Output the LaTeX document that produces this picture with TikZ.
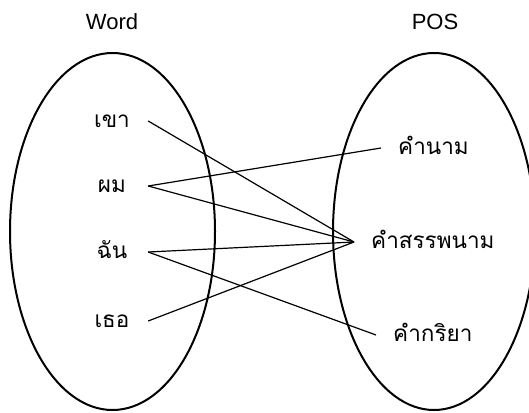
\documentclass[tikz,border=0pt]{standalone}
\usepackage{fontspec}
\setmainfont{Liberation Sans}
\newfontfamily\thaifont[Script=Thai]{Loma}
\begin{document}
\begin{tikzpicture}[x=1pt,y=-1pt,
  setline/.style={line width=2pt},
  link/.style={line width=1.2pt},
  title/.style={font=\fontsize{22}{22}\selectfont, inner sep=0pt},
  wordlbl/.style={font=\thaifont\fontsize{22.5}{22.5}\selectfont, inner sep=0pt, text height=13pt, text depth=0pt, minimum width=72pt},
  poslbl/.style={font=\thaifont\fontsize{22.5}{22.5}\selectfont, inner ysep=0pt, inner xsep=17pt, text height=13pt, text depth=0pt, anchor=west}]
\useasboundingbox (0,0) rectangle (529,412);
\begin{scope}
\clip (0,0) rectangle (529,412);
\draw[setline] (112.5,231.5) ellipse [x radius=102.5, y radius=178.5];
\draw[setline] (434,231.5) ellipse [x radius=101, y radius=178.5];
\end{scope}
\node[title] (tw) at (112,22) {Word};
\node[title] (tp) at (435,22) {POS};
\node[wordlbl] (w1) at (112,121) {เขา};
\node[wordlbl] (w2) at (112,186) {ผม};
\node[wordlbl] (w3) at (112,252) {ฉัน};
\node[wordlbl] (w4) at (112,321) {เธอ};
\node[poslbl] (p1) at (381,148) {คำนาม};
\node[poslbl] (p2) at (354,242) {คำสรรพนาม};
\node[poslbl] (p3) at (376,335) {คำกริยา};
\draw[link] (w1.east) -- (p2.west);
\draw[link] (w2.east) -- (p1.west);
\draw[link] (w2.east) -- (p2.west);
\draw[link] (w3.east) -- (p2.west);
\draw[link] (w3.east) -- (p3.west);
\draw[link] (w4.east) -- (p2.west);
\end{tikzpicture}
\end{document}
